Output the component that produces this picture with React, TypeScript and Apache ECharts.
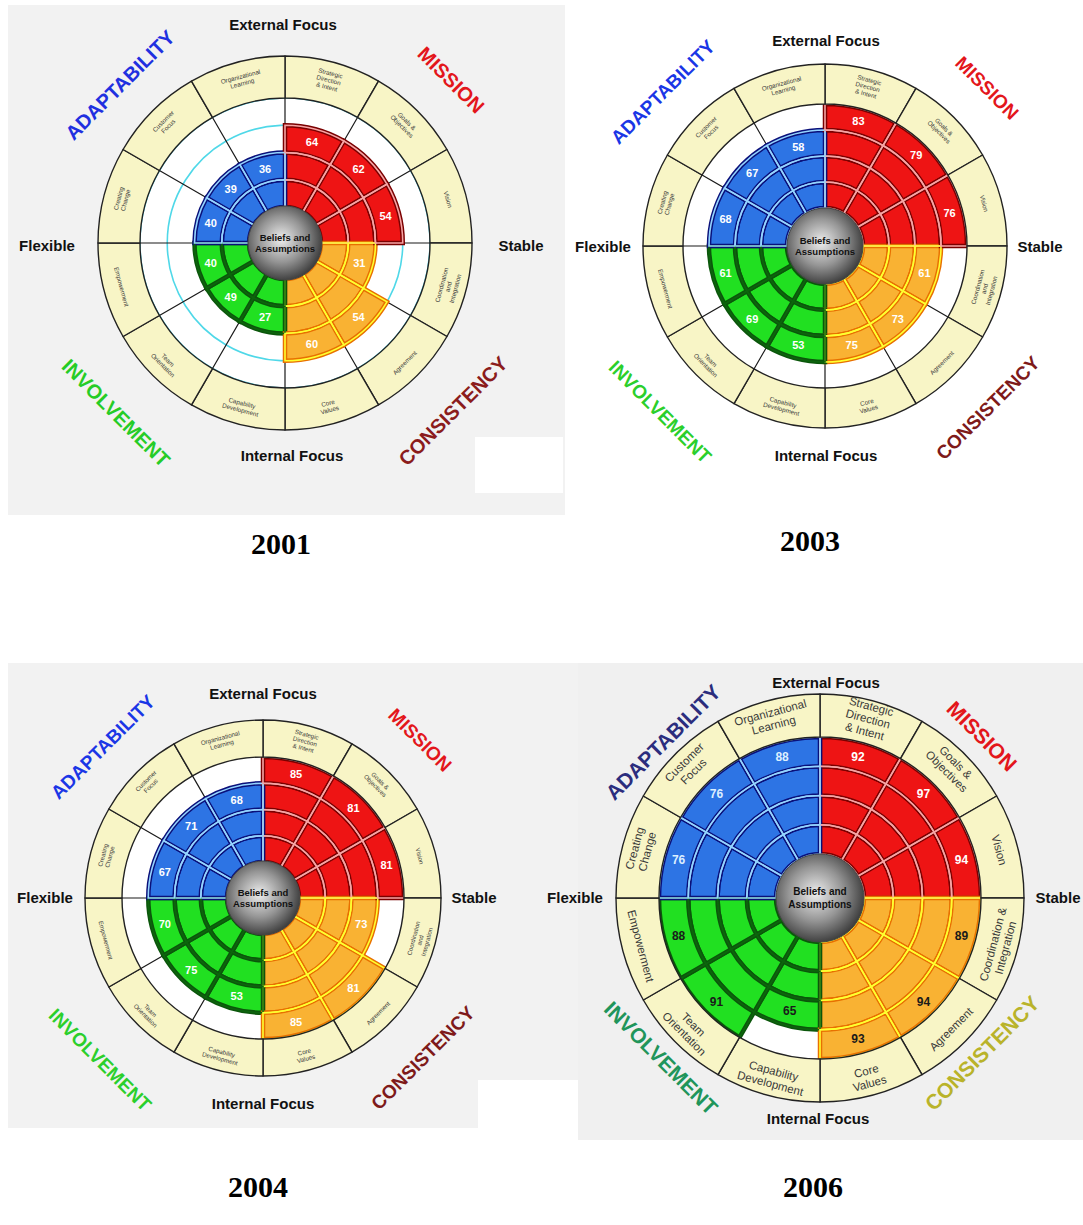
import React, { useEffect, useRef } from 'react';
import * as echarts from 'echarts';

// ---------- data ----------
const SEGMENTS = [
  'Strategic Direction & Intent', 'Goals & Objectives', 'Vision',
  'Coordination & Integration', 'Agreement', 'Core Values',
  'Capability Development', 'Team Orientation', 'Empowerment',
  'Creating Change', 'Customer Focus', 'Organizational Learning',
];
const SEGMENT_LABELS_SMALL = [
  'Strategic\nDirection\n& Intent', 'Goals &\nObjectives', 'Vision',
  'Coordination\nand\nIntegration', 'Agreement', 'Core\nValues',
  'Capability\nDevelopment', 'Team\nOrientation', 'Empowerment',
  'Creating\nChange', 'Customer\nFocus', 'Organizational\nLearning',
];
const SEGMENT_LABELS_LARGE = [
  'Strategic\nDirection\n& Intent', 'Goals &\nObjectives', 'Vision',
  'Coordination &\nIntegration', 'Agreement', 'Core\nValues',
  'Capability\nDevelopment', 'Team\nOrientation', 'Empowerment',
  'Creating\nChange', 'Customer\nFocus', 'Organizational\nLearning',
];
const QUADRANTS = ['MISSION', 'CONSISTENCY', 'INVOLVEMENT', 'ADAPTABILITY'];
const AXIS_LABELS = ['External Focus', 'Stable', 'Internal Focus', 'Flexible'];
const YEARS = ['2001', '2003', '2004', '2006'];
const V2001 = [64, 62, 54, 31, 54, 60, 27, 49, 40, 40, 39, 36];
const V2003 = [83, 79, 76, 61, 73, 75, 53, 69, 61, 68, 67, 58];
const V2004 = [85, 81, 81, 73, 81, 85, 53, 75, 70, 67, 71, 68];
const V2006 = [92, 97, 94, 89, 94, 93, 65, 91, 88, 76, 76, 88];
const VALUES = [V2001, V2003, V2004, V2006];
const RING_STEP = 25; // quartile rings
const RING_COUNT = 4;

// ---------- styles / layout ----------
const QSTYLE = [
  { fill: '#ee1414', dark: '#7a0000', light: '#f7a4a4' },
  { fill: '#f9b233', dark: '#e87000', light: '#ffff30' },
  { fill: '#21e021', dark: '#0b560b', light: '#0d640d' },
  { fill: '#2d74e4', dark: '#0a107a', light: '#94d4ff' },
];
const SANS = '"Liberation Sans", Arial, sans-serif';

const LAYOUTS = [
  {
    cx: 285, cy: 243, r0: 36, rIn: 145, rOut: 187, sphereR: 37, centerFont: 9.5,
    ringFont: 6.3, valFont: 11, labels: SEGMENT_LABELS_SMALL,
    axisPos: [[283, 24], [521, 245], [292, 455], [47, 245]], axisFont: 15,
    quadPos: [[451, 80], [453, 411], [116, 413], [120, 85]], quadFont: 20,
    quadColors: ['#e3161b', '#8b1c1c', '#26cc26', '#1f30e0'],
    valColors: ['#ffffff', '#ffffff', '#ffffff', '#ffffff'], year: [281, 543], cyan: true,
  },
  {
    cx: 825, cy: 246, r0: 38, rIn: 142, rOut: 182, sphereR: 38, centerFont: 9.5,
    ringFont: 6.3, valFont: 11, labels: SEGMENT_LABELS_SMALL,
    axisPos: [[826, 40], [1040, 246], [826, 455], [603, 246]], axisFont: 15,
    quadPos: [[987, 88], [988, 408], [660, 412], [663, 92]], quadFont: 19,
    quadColors: ['#e3161b', '#7e1a1a', '#2bcf2b', '#1a36e6'],
    valColors: ['#ffffff', '#ffffff', '#ffffff', '#ffffff'], year: [810, 540], cyan: false,
  },
  {
    cx: 263, cy: 898, r0: 36, rIn: 141, rOut: 178, sphereR: 37, centerFont: 9.5,
    ringFont: 6.2, valFont: 11, labels: SEGMENT_LABELS_SMALL,
    axisPos: [[263, 693], [474, 897], [263, 1103], [45, 897]], axisFont: 15,
    quadPos: [[420, 740], [423, 1058], [100, 1060], [103, 747]], quadFont: 19,
    quadColors: ['#e3161b', '#7e1a1a', '#2bcf2b', '#1a36e6'],
    valColors: ['#ffffff', '#ffffff', '#ffffff', '#ffffff'], year: [258, 1186], cyan: false,
  },
  {
    cx: 820, cy: 898, r0: 44, rIn: 161, rOut: 204, sphereR: 44, centerFont: 10,
    ringFont: 11.5, valFont: 12, labels: SEGMENT_LABELS_LARGE,
    axisPos: [[826, 682], [1058, 897], [818, 1118], [575, 897]], axisFont: 15,
    quadPos: [[982, 736], [982, 1053], [661, 1058], [663, 742]], quadFont: 21,
    quadColors: ['#e3161b', '#b9b32a', '#20955a', '#2b2d7d'],
    valColors: ['#ffffff', '#1a1a1a', '#1a1a1a', '#dcefff'], year: [813, 1186], cyan: false,
  },
];
const QUAD_ROT = [-Math.PI / 4, Math.PI / 4, -Math.PI / 4, Math.PI / 4];

const PANELS: [number, number, number, number, string][] = [
  [8, 5, 557, 510, '#f2f2f2'],
  [475, 437, 88, 56, '#ffffff'],
  [8, 663, 570, 465, '#f2f2f2'],
  [478, 1080, 100, 48, '#ffffff'],
  [578, 663, 505, 477, '#f0f0f0'],
];

const ringsOf = (v: number) => Math.ceil(v / RING_STEP);

function txt(text: string, x: number, y: number, size: number, color: string, opts: any = {}) {
  return {
    type: 'text', x, y, rotation: opts.rotation || 0, z: 100, silent: true,
    style: {
      text, fill: color, fontSize: size, fontWeight: opts.weight || 'bold',
      fontFamily: opts.family || SANS, align: 'center', verticalAlign: 'middle',
      textAlign: 'center', textVerticalAlign: 'middle', lineHeight: opts.lineHeight,
    },
  };
}

function buildOption() {
  const polar: any[] = [];
  const angleAxis: any[] = [];
  const radiusAxis: any[] = [];
  const series: any[] = [];
  const graphic: any[] = [];

  // base polars 0..3, overlay polars 4..7
  [0, 1].forEach((layer) => {
    LAYOUTS.forEach((L, c) => {
      const pi = layer * 4 + c;
      polar.push({ center: [L.cx, L.cy], radius: [L.r0, L.rIn] });
      angleAxis.push({
        polarIndex: pi, type: 'category', data: SEGMENTS, startAngle: 90, clockwise: true,
        boundaryGap: true, z: 1,
        axisLine: { show: false }, axisTick: { show: false }, axisLabel: { show: false },
        splitLine: { show: layer === 0, lineStyle: { color: '#1a1a1a', width: 1.2 } },
      });
      radiusAxis.push({
        polarIndex: pi, type: 'value', min: 0, max: RING_COUNT,
        interval: layer === 0 && L.cyan ? 3 : 1, z: 1,
        axisLine: { show: false }, axisTick: { show: false }, axisLabel: { show: false },
        splitLine: { show: layer === 0 && L.cyan, lineStyle: { color: '#4fd8e8', width: 1.6 } },
      });
    });
  });

  LAYOUTS.forEach((L, c) => {
    const vals = VALUES[c];
    // white interior disc
    series.push({
      type: 'pie', center: [L.cx, L.cy], radius: [0, L.rIn], silent: true, z: 0,
      data: [{ value: 1, name: 'interior', itemStyle: { color: '#ffffff' } }],
      label: { show: false }, labelLine: { show: false }, emphasis: { disabled: true },
    });
    // outer beige ring with dimension names
    series.push({
      type: 'pie', center: [L.cx, L.cy], radius: [L.rIn, L.rOut], startAngle: 90,
      clockwise: true, silent: true, z: 3, avoidLabelOverlap: false,
      data: L.labels.map((name) => ({ name, value: 1 })),
      itemStyle: { color: '#f8f5c6', borderColor: '#222222', borderWidth: 1.4 },
      label: {
        show: true, position: 'inside', rotate: 'tangential', formatter: '{b}',
        fontSize: L.ringFont, lineHeight: L.ringFont * 1.12, color: '#3a3a3a',
        fontFamily: SANS,
      },
      labelLine: { show: false }, emphasis: { disabled: true },
    });
    // quartile rings
    for (let k = 1; k <= RING_COUNT; k++) {
      series.push({
        type: 'bar', coordinateSystem: 'polar', polarIndex: c, stack: 'cells' + c,
        barCategoryGap: '0%', silent: true, z: 2,
        data: vals.map((v, i) => {
          const q = Math.floor(i / 3);
          return ringsOf(v) >= k
            ? {
                value: 1,
                itemStyle: { color: QSTYLE[q].fill, borderColor: QSTYLE[q].dark, borderWidth: 4.5 },
                label: { color: L.valColors[q] },
              }
            : '-';
        }),
        label: {
          show: true, position: 'middle', rotate: 0, fontSize: L.valFont, fontWeight: 'bold',
          fontFamily: SANS,
          formatter: (p: any) => (ringsOf(vals[p.dataIndex]) === k ? String(vals[p.dataIndex]) : ''),
        },
      });
      series.push({
        type: 'bar', coordinateSystem: 'polar', polarIndex: c + 4, stack: 'over' + c,
        barCategoryGap: '0%', silent: true, z: 3,
        data: vals.map((v, i) => {
          const q = Math.floor(i / 3);
          return ringsOf(v) >= k
            ? { value: 1, itemStyle: { color: 'rgba(0,0,0,0)', borderColor: QSTYLE[q].light, borderWidth: 1.6 } }
            : '-';
        }),
        label: { show: false },
      });
    }

    // center sphere
    graphic.push({
      type: 'circle', z: 90, silent: true,
      shape: { cx: L.cx, cy: L.cy, r: L.sphereR },
      style: {
        fill: new echarts.graphic.RadialGradient(0.45, 0.45, 0.62, [
          { offset: 0, color: '#eeeeee' },
          { offset: 0.5, color: '#959595' },
          { offset: 1, color: '#2a2a2a' },
        ]),
        stroke: '#444', lineWidth: 1,
      },
    });
    graphic.push(txt('Beliefs and\nAssumptions', L.cx, L.cy, L.centerFont, '#111111', { lineHeight: L.centerFont * 1.25 }));
    AXIS_LABELS.forEach((a, i) => {
      graphic.push(txt(a, L.axisPos[i][0], L.axisPos[i][1], L.axisFont, '#111111'));
    });
    QUADRANTS.forEach((qn, i) => {
      graphic.push(txt(qn, L.quadPos[i][0], L.quadPos[i][1], L.quadFont, L.quadColors[i], { rotation: QUAD_ROT[i] }));
    });
    graphic.push(txt(YEARS[c], L.year[0], L.year[1], 30, '#000000', { family: '"Liberation Serif", "Times New Roman", serif' }));
  });

  return {
    animation: false,
    backgroundColor: 'transparent',
    polar, angleAxis, radiusAxis, series, graphic,
  };
}

export default function App() {
  const ref = useRef<HTMLDivElement>(null);
  useEffect(() => {
    if (!ref.current) return;
    const chart = echarts.init(ref.current, undefined, { renderer: 'svg', width: 1083, height: 1225 });
    chart.setOption(buildOption() as any);
    return () => chart.dispose();
  }, []);
  return (
    <div style={{ position: 'absolute', left: 0, top: 0, width: 1083, height: 1225, background: '#ffffff', overflow: 'hidden' }}>
      {PANELS.map((p, i) => (
        <div key={i} style={{ position: 'absolute', left: p[0], top: p[1], width: p[2], height: p[3], background: p[4] }} />
      ))}
      <div ref={ref} style={{ position: 'absolute', left: 0, top: 0, width: 1083, height: 1225 }} />
    </div>
  );
}
